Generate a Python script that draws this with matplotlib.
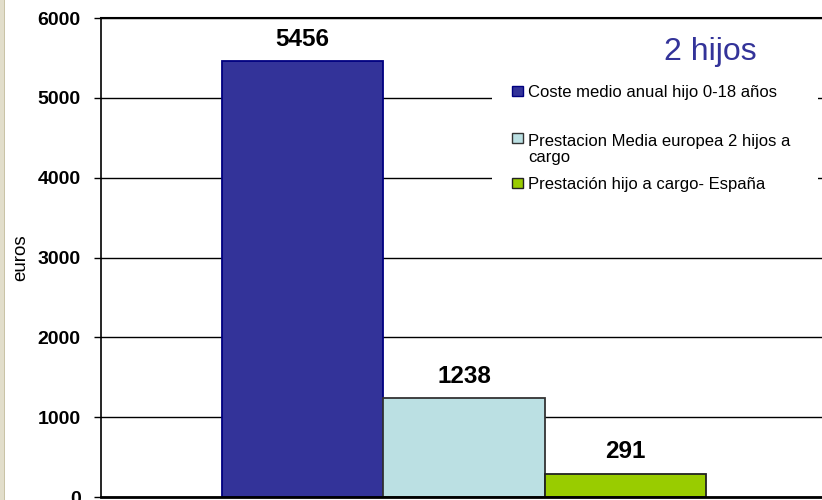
import numpy as np
import matplotlib.pyplot as plt
from matplotlib.patches import Rectangle

plt.rcParams["font.family"] = ["Liberation Sans", "DejaVu Sans"]

# ---- data ----
series = ["Coste medio anual hijo 0-18 años",
          "Prestacion Media europea 2 hijos a\ncargo",
          "Prestación hijo a cargo- España"]
values = [5456, 1238, 291]
colors = ["#333399", "#BBE0E3", "#99CC00"]
edges = ["#000080", "#333333", "#222222"]
yticks = [0, 1000, 2000, 3000, 4000, 5000, 6000]
title = "2 hijos"
ylabel = "euros"

W, H = 822, 500
fig = plt.figure(figsize=(W / 100, H / 100), dpi=100)
ax = fig.add_axes([101 / W, 3 / H, 726 / W, 479 / H])

# thin beige strip at the left edge of the slide
fig.patches.append(Rectangle((0, 0), 5 / W, 1, transform=fig.transFigure,
                             facecolor="#E2DECB", edgecolor="none", zorder=0))
fig.patches.append(Rectangle((4 / W, 0), 1 / W, 1, transform=fig.transFigure,
                             facecolor="#C9C3A6", edgecolor="none", zorder=0))

offsets = np.arange(len(values)) - (len(values) - 1) / 2
for off, v, c, e in zip(offsets, values, colors, edges):
    bars = ax.bar(off, v, width=1.0, color=c, edgecolor=e, linewidth=1.3, zorder=1)
    ax.bar_label(bars, labels=[f"{v}"], padding=7.5, fontsize=17.5,
                 fontweight="bold", zorder=4)

ax.set_xlim(-2.25, 2.25)
ax.set_ylim(0, 6000)
ax.set_yticks(yticks)
ax.set_xticks([])
ax.tick_params(axis="y", length=5, width=1, pad=9.5, labelsize=14, direction="out")
for lab in ax.get_yticklabels():
    lab.set_fontweight("bold")
ax.set_ylabel(ylabel, fontsize=13.5)
ax.yaxis.set_label_coords(-(101 - 29) / 726, 0.5)

ax.set_axisbelow(True)
ax.grid(axis="y", color="black", linewidth=1, zorder=0.5)
ax.spines["right"].set_visible(False)
ax.spines["top"].set_linewidth(1.5)
ax.spines["left"].set_linewidth(1.2)
ax.spines["bottom"].set_linewidth(2)

# legend area (white box hiding the gridlines), drawn by hand
def fx(px):
    return px / W

def fy(py):
    return 1 - py / H

ax.add_patch(Rectangle((fx(492), fy(205)), fx(818) - fx(492), fy(70) - fy(205),
                       transform=fig.transFigure, facecolor="white",
                       edgecolor="none", zorder=2))
rows_y = [97, 144, 189]
line_step = 18
for lab, c, e, y in zip(series, colors, edges, rows_y):
    ax.add_patch(Rectangle((fx(512), fy(y - 1)), fx(11), fy(0) - fy(10),
                           transform=fig.transFigure, facecolor=c,
                           edgecolor=e, linewidth=1, zorder=3))
    # matplotlib puts the baseline of a multi-line text on its last line
    y_last = y + line_step * lab.count("\n")
    fig.text(fx(528), fy(y_last), lab, fontsize=12, va="baseline", ha="left",
             linespacing=1.08, zorder=3)

fig.text(fx(710), fy(52), title, fontsize=23, color="#333399",
         ha="center", va="center")

fig.savefig("out.png", dpi=100)
